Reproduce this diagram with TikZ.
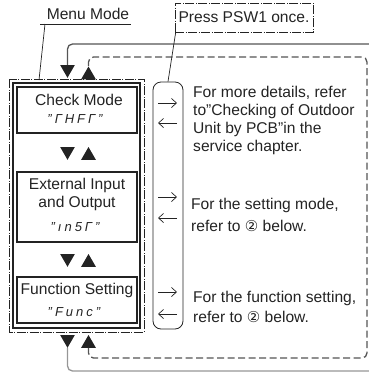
\documentclass[tikz,border=0pt]{standalone}
\usepackage{fontspec}
\setmainfont{Liberation Sans}
\newfontfamily\circfont{DejaVu Sans}
\usetikzlibrary{arrows.meta,shapes.geometric}
\definecolor{ink}{RGB}{35,35,35}
\definecolor{loopgray}{RGB}{85,85,85}
\definecolor{palegray}{RGB}{150,150,150}
\newcommand{\circtwo}{{\circfont\fontsize{15}{15}\selectfont ②}}
\newcommand{\sk}{\kern3pt}
\tikzset{
  modebox/.style={draw=ink,line width=1.3pt,inner sep=0pt},
  lbl/.style={font=\fontsize{15.6}{18}\selectfont,text=ink,inner sep=0pt},
  note/.style={lbl,anchor=base west},
  seg/.style={font=\fontsize{13}{13}\selectfont\itshape,text=ink,inner sep=0pt},
  tridown/.style={regular polygon,regular polygon sides=3,shape border rotate=180,fill=ink,inner sep=0pt,minimum size=17pt},
  triup/.style={regular polygon,regular polygon sides=3,fill=ink,inner sep=0pt,minimum size=17pt},
  dashdot/.style={draw=ink,line width=0.6pt,dash pattern=on 9pt off 1.5pt on 1pt off 1.5pt},
  solidloop/.style={draw=loopgray,line width=1.3pt,rounded corners=5pt},
  dashloop/.style={draw=loopgray,line width=1.3pt,dash pattern=on 7pt off 3.5pt,rounded corners=5pt},
  sidearr/.style={draw=ink,line width=0.7pt,-{Straight Barb[length=5pt,width=9pt]}},
  leader/.style={draw=ink,line width=0.7pt}
}
\begin{document}
\begin{tikzpicture}[x=1pt,y=-1pt]
  \useasboundingbox (0,0) rectangle (369,373);
  % menu frame and the three modes
  \node[modebox,line width=1.6pt,minimum width=127pt,minimum height=245pt] (menu) at (76.5,205.5) {};
  \draw[dashdot] ([shift={(-3,-3)}]menu.north west) rectangle ([shift={(3,3)}]menu.south east);
  \node[modebox,minimum width=120pt,minimum height=46pt] (check) at (77,110) {};
  \node[modebox,minimum width=120pt,minimum height=70pt] (extio) at (77,207) {};
  \node[modebox,minimum width=120pt,minimum height=46pt] (func) at (77,300) {};
  \node[lbl] (checkt) at (79,100) {Check Mode};
  \node[seg] (checks) at (75,119) {"\sk Г\sk H\sk F\sk Г\sk "};
  \node[lbl] (extt1) at (77,185) {External Input};
  \node[lbl] (extt2) at (77,203) {and Output};
  \node[seg] (exts) at (75,227) {"\sk ı\sk n\sk 5\sk Г\sk "};
  \node[lbl] (funct) at (77,290) {Function Setting};
  \node[seg] (funcs) at (74,312) {"\sk F\sk u\sk n\sk c\sk "};
  % triangles
  \node[tridown] (dtop) at (67.5,69.25) {}; \node[triup] (utop) at (88.5,75) {};
  \node[tridown] (d1) at (67.5,151.25) {}; \node[triup] (u1) at (88.5,155.5) {};
  \node[tridown] (d2) at (67.5,258.25) {}; \node[triup] (u2) at (88.5,262.5) {};
  \node[tridown] (dbot) at (67.5,339.25) {}; \node[triup] (ubot) at (88.5,343.5) {};
  % loops
  \coordinate (solidtop) at (369,44); \coordinate (solidbot) at (369,371);
  \coordinate (dashne) at (367,57); \coordinate (dashse) at (367,358);
  \draw[solidloop] (solidtop) -| (dtop.north);
  \draw[solidloop,draw=palegray] (dbot.south) |- (solidbot);
  \draw[dashloop] (utop.north) |- (dashne) -- (dashse) -| (ubot.south);
  % bracket with arrows
  \node[draw=ink,line width=0.8pt,rounded corners=8pt,minimum width=30pt,minimum height=247pt] (brk) at (168,205.5) {};
  \draw[sidearr] (158,103) -- (177,103); \draw[sidearr] (177,123) -- (158,123);
  \draw[sidearr] (158,197) -- (177,197); \draw[sidearr] (177,218) -- (158,218);
  \draw[sidearr] (158,292) -- (177,292); \draw[sidearr] (177,314) -- (158,314);
  % labels
  \node[lbl] (menulbl) at (88,14) {Menu Mode};
  \coordinate (ul1) at (40,24); \coordinate (ul2) at (131,24); \coordinate (menutip) at (39,80);
  \draw[leader] (ul1) -- (ul2); \draw[leader] ([xshift=5pt]ul1) -- (menutip);
  \node[lbl,draw=ink,dashdot,minimum width=138pt,minimum height=29pt] (press) at (244,17.5) {Press PSW1 once.};
  \draw[leader] ([xshift=1pt]press.south west) -- (brk.north);
  % notes
  \node[note] (n11) at (193,97) {For more details, refer};
  \node[note] (n12) at (193,115) {to"Checking of Outdoor};
  \node[note] (n13) at (193,133) {Unit by PCB"in the};
  \node[note] (n14) at (193,151) {service chapter.};
  \node[note] (n21) at (191,209) {For the setting mode,};
  \node[note] (n22) at (191,231) {refer to \circtwo{} below.};
  \node[note] (n31) at (193,302) {For the function setting,};
  \node[note] (n32) at (193,322) {refer to \circtwo{} below.};
\end{tikzpicture}
\end{document}
